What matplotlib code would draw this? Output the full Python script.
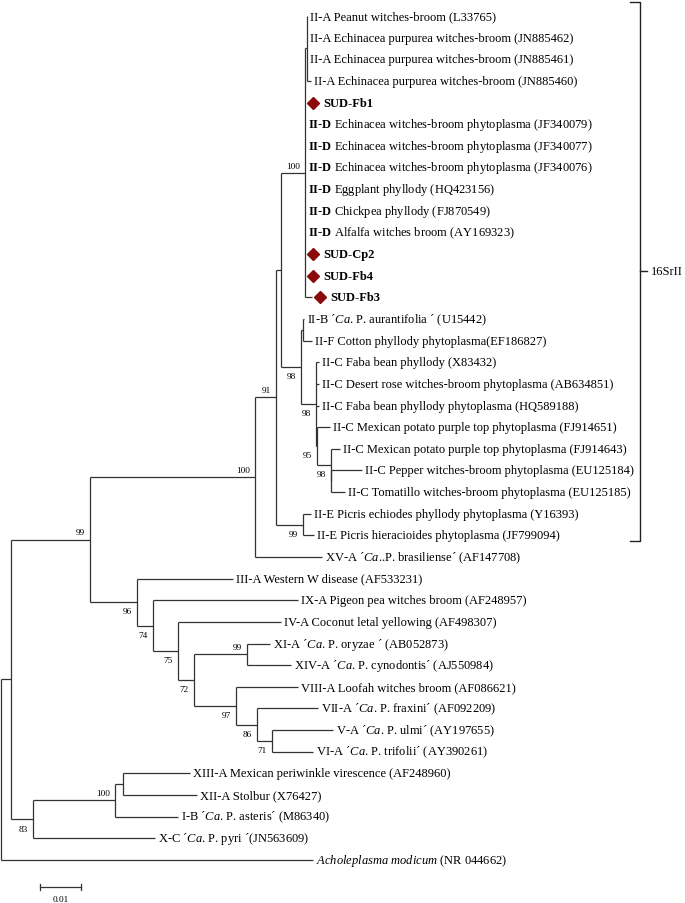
import numpy as np
import matplotlib
matplotlib.use('Agg')
import matplotlib.pyplot as plt

plt.rcParams['font.family'] = 'Liberation Serif'
plt.rcParams['mathtext.fontset'] = 'custom'
plt.rcParams['mathtext.rm'] = 'Liberation Serif'
plt.rcParams['mathtext.it'] = 'Liberation Serif:italic'
plt.rcParams['mathtext.bf'] = 'Liberation Serif:bold'

# leaves, top to bottom
leaf_labels = [
    "II-A Peanut witches-broom (L33765)",
    "II-A Echinacea purpurea witches-broom (JN885462)",
    "II-A Echinacea purpurea witches-broom (JN885461)",
    "II-A Echinacea purpurea witches-broom (JN885460)",
    "SUD-Fb1",
    r"$\mathbf{II}$-$\mathbf{D}$ Echinacea witches-broom phytoplasma (JF340079)",
    r"$\mathbf{II}$-$\mathbf{D}$ Echinacea witches-broom phytoplasma (JF340077)",
    r"$\mathbf{II}$-$\mathbf{D}$ Echinacea witches-broom phytoplasma (JF340076)",
    r"$\mathbf{II}$-$\mathbf{D}$ Eggplant phyllody (HQ423156)",
    r"$\mathbf{II}$-$\mathbf{D}$ Chickpea phyllody (FJ870549)",
    r"$\mathbf{II}$-$\mathbf{D}$ Alfalfa witches broom (AY169323)",
    "SUD-Cp2",
    "SUD-Fb4",
    "SUD-Fb3",
    r"II-B ´$\mathit{Ca}$. P. aurantifolia ´ (U15442)",
    "II-F Cotton phyllody phytoplasma(EF186827)",
    "II-C Faba bean phyllody (X83432)",
    "II-C Desert rose witches-broom phytoplasma (AB634851)",
    "II-C Faba bean phyllody phytoplasma (HQ589188)",
    "II-C Mexican potato purple top phytoplasma (FJ914651)",
    "II-C Mexican potato purple top phytoplasma (FJ914643)",
    "II-C Pepper witches-broom phytoplasma (EU125184)",
    "II-C Tomatillo witches-broom phytoplasma (EU125185)",
    "II-E Picris echiodes phyllody phytoplasma (Y16393)",
    "II-E Picris hieracioides phytoplasma (JF799094)",
    r"XV-A ´$\mathit{Ca}$..P. brasiliense´ (AF147708)",
    "III-A Western W disease (AF533231)",
    "IX-A Pigeon pea witches broom (AF248957)",
    "IV-A Coconut letal yellowing (AF498307)",
    r"XI-A ´$\mathit{Ca}$. P. oryzae ´ (AB052873)",
    r"XIV-A ´$\mathit{Ca}$. P. cynodontis´ (AJ550984)",
    "VIII-A Loofah witches broom (AF086621)",
    r"VII-A ´$\mathit{Ca}$. P. fraxini´ (AF092209)",
    r"V-A ´$\mathit{Ca}$. P. ulmi´ (AY197655)",
    r"VI-A ´$\mathit{Ca}$. P. trifolii´ (AY390261)",
    "XIII-A Mexican periwinkle virescence (AF248960)",
    "XII-A Stolbur (X76427)",
    r"I-B ´$\mathit{Ca}$. P. asteris´ (M86340)",
    r"X-C ´$\mathit{Ca}$. P. pyri ´(JN563609)",
    r"$\mathit{Acholeplasma\ modicum}$ (NR 044662)",
]
leaf_parent = (['IIA'] * 4 + ['I'] * 10 + ['M', 'M'] + ['N'] * 3 + ['O', 'P', 'P2', 'P2']
               + ['J', 'J', 'F', 'G', 'Q', 'R', 'T', 'T', 'U', 'V', 'W', 'W', 'E', 'E', 'D', 'C', 'root'])
leaf_depth = [0.0746, 0.0746, 0.0746, 0.0756, 0.0741, 0.0741, 0.0741, 0.0741, 0.0741, 0.0741,
              0.0741, 0.0741, 0.0741, 0.0759, 0.0739, 0.0759, 0.0776, 0.0776, 0.0776, 0.0802,
              0.0827, 0.0880, 0.0839, 0.0756, 0.0763, 0.0783, 0.0566, 0.0724, 0.0683, 0.0656,
              0.0707, 0.0724, 0.0773, 0.0810, 0.0761, 0.0461, 0.0478, 0.0432, 0.0376, 0.0761]
new_isolates = ['SUD-Fb1', 'SUD-Cp2', 'SUD-Fb4', 'SUD-Fb3']

# internal nodes
node_names = ['root', 'A', 'B', 'C', 'D', 'E', 'F', 'G', 'H', 'I', 'IIA', 'J', 'K', 'L', 'M',
              'N', 'O', 'P', 'P2', 'Q', 'R', 'S', 'T', 'U', 'V', 'W']
node_parent = [None, 'root', 'A', 'A', 'C', 'D', 'B', 'B', 'F', 'K', 'I', 'H', 'H', 'K', 'L',
               'L', 'N', 'O', 'P', 'G', 'Q', 'R', 'S', 'S', 'U', 'V']
node_depth = [0.0, 0.0024, 0.0217, 0.0078, 0.0278, 0.0298, 0.0620, 0.0332, 0.0671, 0.0741,
              0.0746, 0.0737, 0.0683, 0.0732, 0.0737, 0.0768, 0.0771, 0.0805, 0.0805, 0.0371,
              0.0432, 0.0471, 0.0600, 0.0573, 0.0624, 0.0661]

# bootstrap support
boot_nodes = ['I', 'H', 'F', 'B', 'G', 'Q', 'R', 'S', 'T', 'U', 'V', 'W', 'D', 'C', 'J',
              'L', 'N', 'O', 'P']
boot_vals = [100, 91, 100, 99, 96, 74, 75, 72, 99, 97, 86, 71, 100, 83, 99, 98, 98, 95, 98]

clade_label = '16SrII'
scale_len = 0.01

# ---- layout ----
depth = dict(zip(node_names, node_depth))
parent = dict(zip(node_names, node_parent))
children = {n: [] for n in node_names}
for n, p in zip(node_names, node_parent):
    if p is not None:
        children[p].append(('node', n))
for i, p in enumerate(leaf_parent):
    children[p].append(('leaf', i))

ypos = {}
span = {}


def place(n):
    ys = []
    for kind, c in children[n]:
        ys.append(c if kind == 'leaf' else place(c))
    span[n] = (min(ys), max(ys))
    ypos[n] = (min(ys) + max(ys)) / 2
    return ypos[n]


place('root')

fig = plt.figure(figsize=(6.85, 9.04), dpi=100)
ax = fig.add_axes([0, 0, 1, 1])
px = 1 / 4100.0          # data units per pixel along x
ax.set_xlim(-1 * px, 684 * px)
ax.set_ylim(40.99, -0.786)
ax.axis('off')

lc = '#333333'
lw = 0.9

for n in node_names:
    y0, y1 = span[n]
    ax.plot([depth[n], depth[n]], [y0, y1], color=lc, lw=lw, solid_capstyle='butt')
    if parent[n] is not None:
        ax.plot([depth[parent[n]], depth[n]], [ypos[n], ypos[n]], color=lc, lw=lw,
                solid_capstyle='butt')

fs = 9.0
for i, lab in enumerate(leaf_labels):
    x0 = depth[leaf_parent[i]]
    ax.plot([x0, leaf_depth[i]], [i, i], color=lc, lw=lw, solid_capstyle='butt')
    if lab in new_isolates:
        ax.plot(leaf_depth[i] + 8 * px, i, marker='D', ms=6, color='#8b0a0a', mec='#8b0a0a')
        ax.annotate(lab, (leaf_depth[i], i), xytext=(13, 0), textcoords='offset points',
                    ha='left', va='center', fontsize=fs, fontweight='bold')
    else:
        ax.annotate(lab, (leaf_depth[i], i), xytext=(2.2, 0), textcoords='offset points',
                    ha='left', va='center', fontsize=fs)

for n, v in zip(boot_nodes, boot_vals):
    first = min((c if k == 'leaf' else ypos[c]) for k, c in children[parent[n]]) == ypos[n]
    dy = 5.2 if first else -6.6
    ax.annotate(str(v), (depth[n], ypos[n]), xytext=(-3.6, dy), textcoords='offset points',
                ha='right', va='center', fontsize=6.7)

# clade bracket
top, bot = -0.65, 24.25
xb = 639 * px
ax.plot([xb - 10 * px, xb, xb, xb - 10 * px], [top, top, bot, bot], color='#222222', lw=1.0)
ax.plot([xb, xb + 7 * px], [(top + bot) / 2] * 2, color='#222222', lw=1.0)
ax.text(xb + 11 * px, (top + bot) / 2, clade_label, ha='left', va='center', fontsize=fs)

# scale bar
sx, sy = 39 * px, 40.25
ax.plot([sx, sx + scale_len], [sy, sy], color=lc, lw=lw)
ax.plot([sx, sx], [sy - 0.15, sy + 0.15], color=lc, lw=lw)
ax.plot([sx + scale_len] * 2, [sy - 0.15, sy + 0.15], color=lc, lw=lw)
ax.text(sx + scale_len / 2, sy + 0.55, '0.01', ha='center', va='center', fontsize=6.7)

fig.savefig('out.png', dpi=100)
